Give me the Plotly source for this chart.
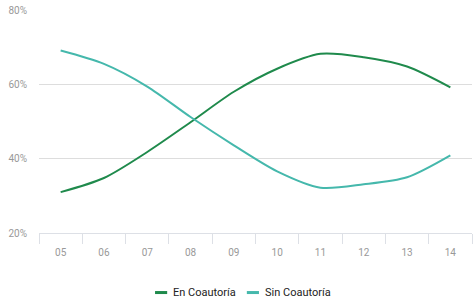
import plotly.graph_objects as go

years = ["05", "06", "07", "08", "09", "10", "11", "12", "13", "14"]
en_coautoria = [31.0, 34.8, 41.8, 49.8, 58.0, 64.2, 68.2, 67.3, 64.8, 59.2]
sin_coautoria = [69.1, 65.5, 59.4, 51.2, 43.6, 36.6, 32.2, 33.1, 35.0, 40.9]
y_ticks = [20, 40, 60, 80]
y_tick_labels = ["20%", "40%", "60%", "80%"]
series_names = ["En Coautoría", "Sin Coautoría"]
series_colors = ["#1f8a4c", "#45b8ac"]

fig = go.Figure()
for name, vals, col in zip(series_names, [en_coautoria, sin_coautoria], series_colors):
    fig.add_trace(go.Scatter(x=years, y=vals, name=name, mode="lines", showlegend=False,
                             line=dict(color=col, width=2, shape="spline", smoothing=0.8)))

# manual legend (paper coordinates)
leg_y = -0.267
leg_items = [(0.268, 0.296, 0.305), (0.480, 0.508, 0.517)]
for (x0, x1, xt), name, col in zip(leg_items, series_names, series_colors):
    fig.add_shape(type="line", xref="paper", yref="paper", x0=x0, x1=x1, y0=leg_y, y1=leg_y,
                  line=dict(color=col, width=3))
    fig.add_annotation(xref="paper", yref="paper", x=xt, y=leg_y, xanchor="left",
                       yanchor="middle", text=name, showarrow=False,
                       font=dict(size=11, color="#222"))

fig.update_layout(
    width=474, height=303,
    margin=dict(l=39, r=2, t=10, b=70, autoexpand=False),
    paper_bgcolor="white", plot_bgcolor="white",
    font=dict(family="Liberation Sans Narrow, Roboto, sans-serif", color="#999", size=10),
    showlegend=False,
    xaxis=dict(type="category", range=[-0.5, 9.5], showgrid=False, showline=True,
               linecolor="#dde0e6", linewidth=1,
               ticks="outside", tickson="boundaries", ticklen=10, tickcolor="#dde0e6",
               tickfont=dict(size=10, color="#999"), ticklabelstandoff=10, fixedrange=True),
    yaxis=dict(range=[20, 80], tickvals=y_ticks, ticktext=y_tick_labels, showgrid=True,
               gridcolor="#dddddd", gridwidth=1, zeroline=False, showline=False,
               tickfont=dict(size=10, color="#999"), ticks="", ticklabelstandoff=11),
)

fig.write_html("out.html", config={"displayModeBar": False},
               post_script="document.body.style.margin='0';")
